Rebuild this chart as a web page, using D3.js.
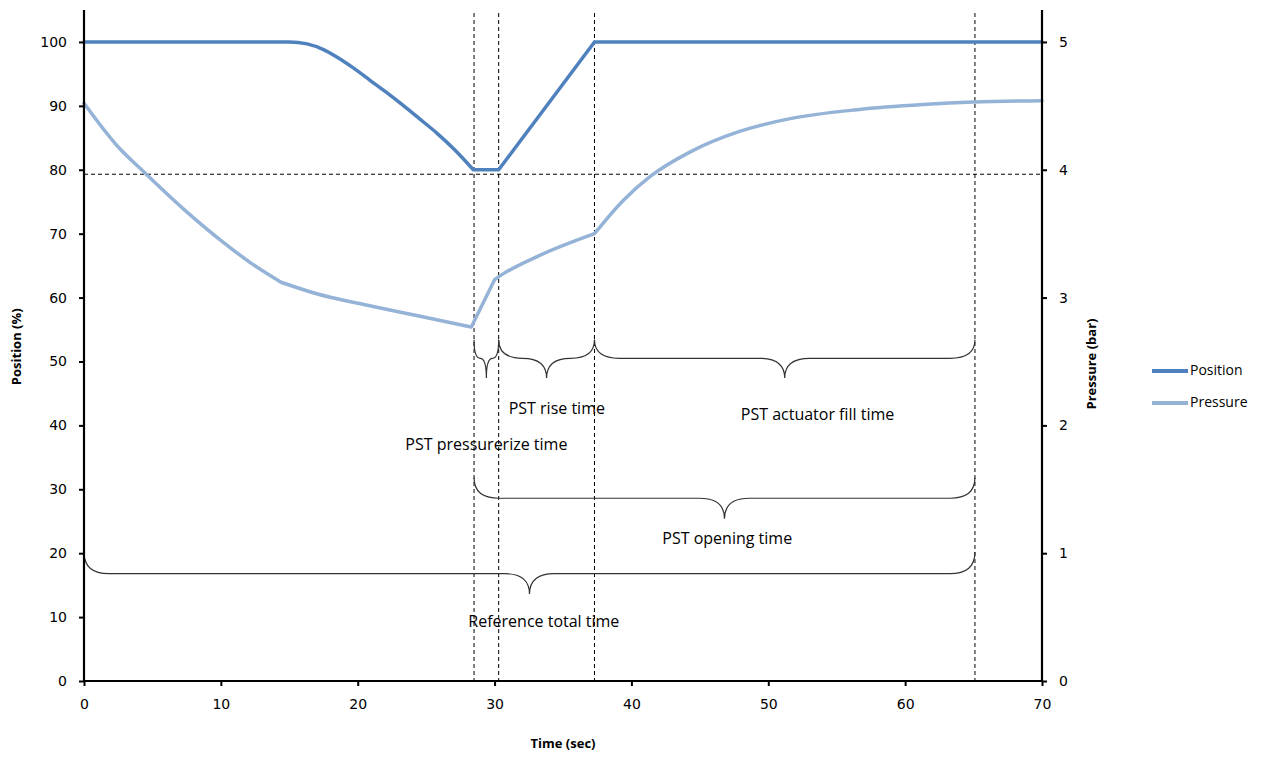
<!DOCTYPE html>
<html>
<head>
    <meta charset="utf-8">
    <script src="https://d3js.org/d3.v7.min.js"></script>
    <style>
        body { margin: 0; background: #fff; }
    </style>
</head>

<body></body>

<script>
    // position (%)
    var posTime  = [0, 15.0, 16.3, 17.5, 18.5, 19.7, 20.9, 22.1, 23.3, 24.5, 25.8, 27.1, 28.45,
                    30.3, 37.3, 70];
    var posValue = [100, 100, 99.7, 98.8, 97.6, 95.9, 94.0, 92.1, 90.1, 88.0, 85.7, 83.1, 80.0,
                    80.0, 100, 100];

    // pressure (bar)
    var presTime  = [0, 2.4, 4.4, 7.3, 10.2, 12.2, 14.4, 17.0, 20.7, 24.3, 28.3,
                     30.0, 30.4, 33.3, 37.3,
                     39.4, 41.4, 44.3, 47.9, 51.6, 56.5, 61.3, 65.0, 70];
    var presValue = [4.52, 4.19, 3.98, 3.69, 3.43, 3.27, 3.12, 3.03, 2.94, 2.86, 2.77,
                     3.14, 3.17, 3.33, 3.50,
                     3.76, 3.95, 4.14, 4.30, 4.40, 4.47, 4.51, 4.53, 4.54];

    // sharp corners in each trace
    var posCorners = [28.45, 30.3, 37.3];
    var presCorners = [14.4, 28.3, 30.0, 37.3];

    var xTicks = [0, 10, 20, 30, 40, 50, 60, 70];
    var yTicks = [0, 10, 20, 30, 40, 50, 60, 70, 80, 90, 100];
    var y2Ticks = [0, 1, 2, 3, 4, 5];

    // reference markers
    var markTimes = [28.5, 30.3, 37.3, 65.1];
    var markLevel = 79.3;

    // braces: from / to (sec), end, line and tip levels (%)
    var braces = [
        {from: 28.5, to: 30.3, top: 53.4, level: 50.5, tip: 47.4},
        {from: 30.3, to: 37.3, top: 53.4, level: 50.5, tip: 47.4},
        {from: 37.3, to: 65.1, top: 53.4, level: 50.5, tip: 47.4},
        {from: 28.5, to: 65.1, top: 31.8, level: 28.6, tip: 25.4},
        {from: 0,    to: 65.1, top: 20.2, level: 16.8, tip: 13.6}
    ];
    var noteText = ["PST rise time", "PST actuator fill time", "PST pressurerize time", "PST opening time", "Reference total time"];
    var noteTime = [34.55, 53.6, 29.4, 47.0, 33.6];
    var noteLevel = [42.4, 41.5, 36.8, 22.1, 9.1];

    var seriesNames = ["Position", "Pressure"];
    var colors = ["#4f81bd", "#95b3d7"];

    var margin = {top: 10, right: 222, bottom: 77, left: 84},
        width = 1264 - margin.left - margin.right,
        height = 758 - margin.top - margin.bottom;

    var svg = d3.select("body").append("svg")
        .attr("width", 1264)
        .attr("height", 758)
      .append("g")
        .attr("transform", "translate(" + margin.left + "," + margin.top + ")");

    var x = d3.scaleLinear().domain([0, 70]).range([0, width]);
    var y = d3.scaleLinear().domain([0, 105]).range([height, 0]);
    var y2 = d3.scaleLinear().domain([0, 5.25]).range([height, 0]);

    // dashed markers
    svg.selectAll(".vmark").data(markTimes).enter().append("line")
        .attr("x1", function(d) { return x(d) }).attr("x2", function(d) { return x(d) })
        .attr("y1", 3).attr("y2", height)
        .attr("stroke", "#000").attr("stroke-width", 1).attr("stroke-dasharray", "4,3");
    svg.append("line")
        .attr("x1", 0).attr("x2", width)
        .attr("y1", y(markLevel)).attr("y2", y(markLevel))
        .attr("stroke", "#000").attr("stroke-width", 1).attr("stroke-dasharray", "4,3");

    // split a trace at its corners, each piece drawn smooth
    let pieces = (times, values, corners) => {
        let out = [], cur = [];
        times.forEach(function(t, i) {
            cur.push([t, values[i]]);
            if (corners.indexOf(t) >= 0) {
                out.push(cur);
                cur = [[t, values[i]]];
            }
        });
        out.push(cur);
        return out;
    };

    let drawTrace = (segs, yScale, color) => {
        var line = d3.line()
            .curve(d3.curveMonotoneX)
            .x(function(d) { return x(d[0]) })
            .y(function(d) { return yScale(d[1]) });
        svg.append("path")
            .attr("fill", "none").attr("stroke", color).attr("stroke-width", 3.5)
            .attr("stroke-linejoin", "round").attr("stroke-linecap", "round")
            .attr("d", segs.map(function(s) { return line(s) }).join(""));
    };

    drawTrace(pieces(presTime, presValue, presCorners), y2, colors[1]);
    drawTrace(pieces(posTime, posValue, posCorners), y, colors[0]);

    // braces
    var bracePath = function(b) {
        var x0 = x(b.from), x1 = x(b.to), xm = (x0 + x1) / 2,
            yt = y(b.top), yl = y(b.level), yp = y(b.tip),
            r = Math.min(25, (x1 - x0) / 4);
        return "M" + x0 + "," + yt +
            " Q" + x0 + "," + yl + " " + (x0 + r) + "," + yl +
            " L" + (xm - r) + "," + yl +
            " Q" + xm + "," + yl + " " + xm + "," + yp +
            " Q" + xm + "," + yl + " " + (xm + r) + "," + yl +
            " L" + (x1 - r) + "," + yl +
            " Q" + x1 + "," + yl + " " + x1 + "," + yt;
    };
    svg.selectAll(".brace").data(braces).enter().append("path")
        .attr("fill", "none").attr("stroke", "#333").attr("stroke-width", 1.2)
        .attr("d", bracePath);

    svg.selectAll(".note").data(noteText).enter().append("text")
        .attr("x", function(d, i) { return x(noteTime[i]) })
        .attr("y", function(d, i) { return y(noteLevel[i]) })
        .attr("text-anchor", "middle").attr("dominant-baseline", "middle")
        .style("font-family", "'Open Sans', sans-serif").style("font-size", "16px")
        .attr("fill", "#000")
        .text(function(d) { return d });

    // axes
    var gx = svg.append("g").attr("transform", "translate(0," + height + ")")
        .call(d3.axisBottom(x).tickValues(xTicks).tickSize(5).tickPadding(13));
    var gy = svg.append("g")
        .call(d3.axisLeft(y).tickValues(yTicks).tickSize(5).tickPadding(12));
    var gy2 = svg.append("g").attr("transform", "translate(" + width + ",0)")
        .call(d3.axisRight(y2).tickValues(y2Ticks).tickFormat(d3.format("d")).tickSize(5).tickPadding(12));
    [gx, gy, gy2].forEach(function(g) {
        g.select(".domain").attr("stroke", "#000").attr("stroke-width", 2.2);
        g.selectAll(".tick line").attr("stroke", "#000").attr("stroke-width", 2);
        g.selectAll(".tick text")
            .style("font-family", "'DejaVu Sans', Verdana, sans-serif")
            .style("font-size", "14px").attr("fill", "#000");
    });
    gy.select(".domain").attr("d", "M0,0V" + height);
    gy2.select(".domain").attr("d", "M0,0V" + height);
    gx.select(".domain").attr("d", "M0,0H" + width);

    // axis titles
    let title = (sel) => sel
        .attr("text-anchor", "middle").attr("dominant-baseline", "middle")
        .style("font-family", "'Open Sans', sans-serif").style("font-size", "13px")
        .style("font-weight", "bold").attr("fill", "#000");

    svg.append("text")
        .attr("transform", "translate(" + (-66) + "," + (y(52.3)) + ") rotate(-90)")
        .call(title).text("Position (%)");
    svg.append("text")
        .attr("transform", "translate(" + (width + 51) + "," + (y(49.6)) + ") rotate(-90)")
        .call(title).text("Pressure (bar)");
    svg.append("text")
        .attr("x", x(35)).attr("y", height + 64)
        .call(title).text("Time (sec)");

    // legend
    var legend = svg.append("g").attr("transform", "translate(" + (width + 110) + ",361)");
    seriesNames.forEach(function(name, i) {
        legend.append("line")
            .attr("x1", 0).attr("x2", 36).attr("y1", i * 32).attr("y2", i * 32)
            .attr("stroke", colors[i]).attr("stroke-width", 4);
        legend.append("text")
            .attr("x", 38).attr("y", i * 32)
            .attr("dominant-baseline", "middle")
            .style("font-family", "'Open Sans', sans-serif").style("font-size", "14px")
            .attr("fill", "#000")
            .text(name);
    });
</script>
</html>
